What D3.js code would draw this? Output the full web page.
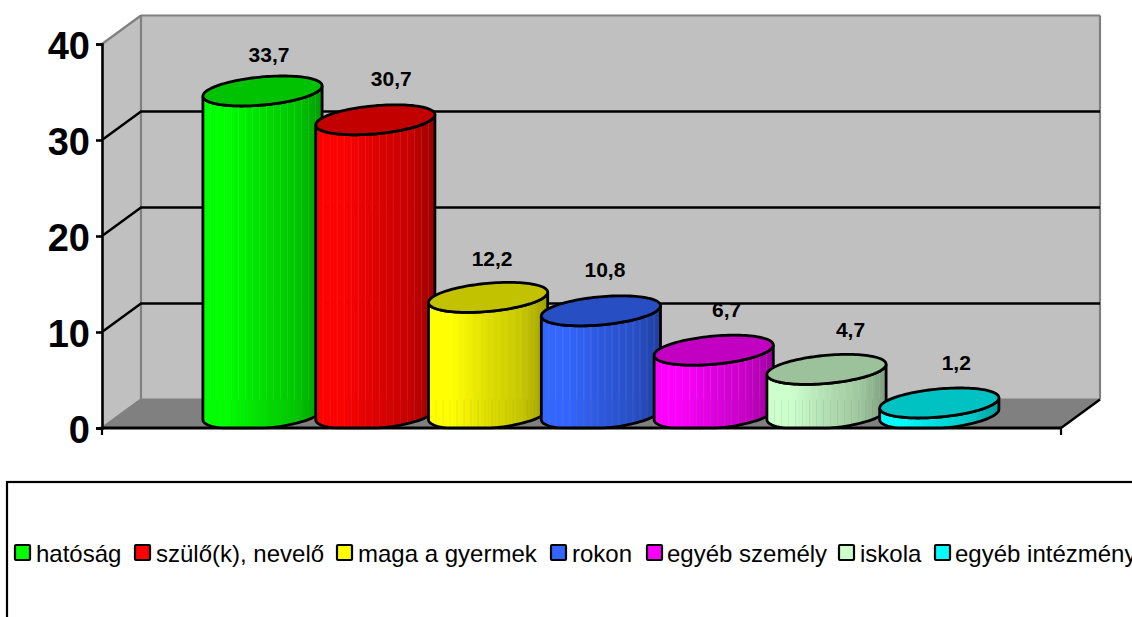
<!DOCTYPE html>
<html><head><meta charset="utf-8">
<script src="https://cdn.jsdelivr.net/npm/d3@7"></script>
<style>html,body{margin:0;padding:0;background:#fff;overflow:hidden}svg{display:block}text{font-family:"Liberation Sans",Arial,sans-serif;fill:#000}</style>
</head><body><svg id="c" width="1132" height="617"></svg>
<script>
const categories=["hatóság","szülő(k), nevelő","maga a gyermek","rokon","egyéb személy","iskola","egyéb intézmény"];
const values=[33.7,30.7,12.2,10.8,6.7,4.7,1.2];
const valueLabels=["33,7","30,7","12,2","10,8","6,7","4,7","1,2"];
const colors=["#00ff00","#ff0000","#ffff00","#3366ff","#ff00ff","#ccffcc","#00ffff"];
const yTicks=[0,10,20,30,40];

// layout (separate from data)
const labelNudgeX=[6.5,16,4,4,13,24,17], labelNudgeY=[-28.5,-33.5,-31.5,-33.5,-33.5,-32.5,-33];
const legendSwatchX=[15,135,337,551,647,839,935], legendTextX=[36,156,358,572,667,860,955];
const front={l:102,r:1061,b:428,t:44}, depth={x:39,y:-28.5};
const svg=d3.select("#c");
const y=d3.scaleLinear().domain([0,40]).range([front.b,front.t]);
const x=d3.scalePoint().domain(categories).range([262.5,939.3]);
const back=v=>y(v)+depth.y;
const bx=front.l+depth.x, bl=front.b+depth.y, baseY=414.5;
const pts=a=>a.map(p=>p.join(",")).join(" ");

// walls
svg.append("polygon").attr("points",pts([[bx,back(40)],[front.r+depth.x,back(40)],[front.r+depth.x,bl],[bx,bl]])).attr("fill","#c0c0c0");
svg.append("polygon").attr("points",pts([[front.l,y(40)],[bx,back(40)],[bx,bl],[front.l,front.b]])).attr("fill","#c0c0c0");
svg.append("polygon").attr("points",pts([[front.l,front.b],[bx,bl],[front.r+depth.x,bl],[front.r,front.b]])).attr("fill","#808080");
// wall edges
[[[front.l,y(40)],[bx,back(40)]],[[bx,back(40)],[front.r+depth.x,back(40)]],[[bx,back(40)],[bx,bl]],[[front.r+depth.x,back(40)],[front.r+depth.x,bl]],[[bx,bl],[front.r+depth.x,bl]],[[front.l,front.b],[bx,bl]]].forEach(s=>{
  svg.append("line").attr("x1",s[0][0]).attr("y1",s[0][1]).attr("x2",s[1][0]).attr("y2",s[1][1]).attr("stroke","#808080").attr("stroke-width",2.2);
});
// gridlines
yTicks.filter(t=>t>0&&t<40).forEach(t=>{
  svg.append("polyline").attr("points",pts([[front.l,y(t)],[bx,back(t)],[front.r+depth.x,back(t)]])).attr("fill","none").attr("stroke","#000").attr("stroke-width",2.4);
});
svg.append("line").attr("x1",front.r).attr("y1",front.b).attr("x2",front.r+depth.x).attr("y2",bl).attr("stroke","#000").attr("stroke-width",2.4);

// cylinders
const ry=15, vx=ry*depth.x/-depth.y, ext=59.6, u=Math.sqrt(ext*ext-vx*vx);
function ell(cx,cy,t){return [cx+u*Math.cos(t)+vx*Math.sin(t), cy-ry*Math.sin(t)];}
const tExt=Math.atan2(vx,u); // t of the right extreme
function arcPath(cx,cy,t0,t1,n){const p=[];for(let i=0;i<=n;i++){p.push(ell(cx,cy,t0+(t1-t0)*i/n));}return p;}
const line=d3.line();
const defs=svg.append("defs");
defs.append("clipPath").attr("id","floorClip").append("rect").attr("x",0).attr("y",0).attr("width",1132).attr("height",front.b+1.2);
const cyl=svg.append("g").attr("clip-path","url(#floorClip)");
const shade=d3.scaleLinear().domain([0,.2,.5,.78,1]).range([1,1,.87,.78,.62]);
categories.forEach((c,i)=>{
  const cx=x(c), h=y(0)-y(values[i]), topY=baseY-h, col=d3.rgb(colors[i]);
  const g=cyl.append("g");
  const lower=arcPath(cx,baseY,tExt,tExt-Math.PI,60);
  const upperNear=arcPath(cx,topY,tExt-Math.PI,tExt,60);
  const body=lower.concat(upperNear);
  const id="b"+i;
  defs.append("clipPath").attr("id",id).append("path").attr("d",line(body)+"Z");
  const strips=g.append("g").attr("clip-path",`url(#${id})`);
  const n=34, w=2*ext/n;
  d3.range(n).forEach(k=>{
    const f=shade((k+.5)/n), streak=k%2===0&&k>0;
    const cc=d3.rgb(col.r*f,col.g*f,col.b*f);
    strips.append("rect").attr("x",cx-ext+k*w).attr("y",topY-20).attr("width",w+.6).attr("height",h+60).attr("fill",cc.formatHex());
    if(streak){
      strips.append("rect").attr("x",cx-ext+k*w).attr("y",topY-20).attr("width",1).attr("height",h+60).attr("fill","#fff").attr("opacity",.1);
      strips.append("rect").attr("x",cx-ext+k*w).attr("y",Math.max(bl,topY-20)).attr("width",1).attr("height",50).attr("fill","#000").attr("opacity",.07);
    }
  });
  g.append("path").attr("d",line(body)+"Z").attr("fill","none").attr("stroke","#000").attr("stroke-width",2.8);
  const topCol=d3.rgb(col.r*.76,col.g*.76,col.b*.76);
  g.append("path").attr("d",line(arcPath(cx,topY,0,2*Math.PI,120))+"Z").attr("fill",topCol.formatHex()).attr("stroke","#000").attr("stroke-width",2.8);
});

// axis
const axis=d3.axisLeft(y).tickValues(yTicks).tickSize(6).tickPadding(6).tickFormat(d3.format("d"));
const ga=svg.append("g").attr("transform",`translate(${front.l},0)`).call(axis);
ga.select(".domain").attr("stroke","#000").attr("stroke-width",2.6);
ga.selectAll(".tick line").attr("stroke","#000").attr("stroke-width",2.6);
ga.selectAll(".tick text").attr("font-size",38).attr("font-weight","bold").attr("font-family",'"Liberation Sans",Arial,sans-serif').attr("fill","#000").attr("dy","0.385em");
svg.append("line").attr("x1",front.l-1.3).attr("x2",front.r+1).attr("y1",front.b).attr("y2",front.b).attr("stroke","#000").attr("stroke-width",2.8);
[front.l,front.r].forEach(px=>svg.append("line").attr("x1",px).attr("x2",px).attr("y1",front.b).attr("y2",front.b+7).attr("stroke","#000").attr("stroke-width",2.2));

// value labels
categories.forEach((c,i)=>{
  svg.append("text").attr("x",x(c)+labelNudgeX[i]).attr("y",baseY-(y(0)-y(values[i]))+labelNudgeY[i])
    .attr("text-anchor","middle").attr("font-size",21).attr("font-weight","bold").text(valueLabels[i]);
});

// legend
svg.append("rect").attr("x",7).attr("y",482).attr("width",1300).attr("height",300).attr("fill","#fff").attr("stroke","#000").attr("stroke-width",2.2);
categories.forEach((c,i)=>{
  svg.append("rect").attr("x",legendSwatchX[i]).attr("y",545).attr("width",15).attr("height",15).attr("rx",1).attr("fill",colors[i]).attr("stroke","#000").attr("stroke-width",2.2);
  svg.append("text").attr("x",legendTextX[i]).attr("y",561.5).attr("font-size",24).text(c);
});
</script></body></html>
